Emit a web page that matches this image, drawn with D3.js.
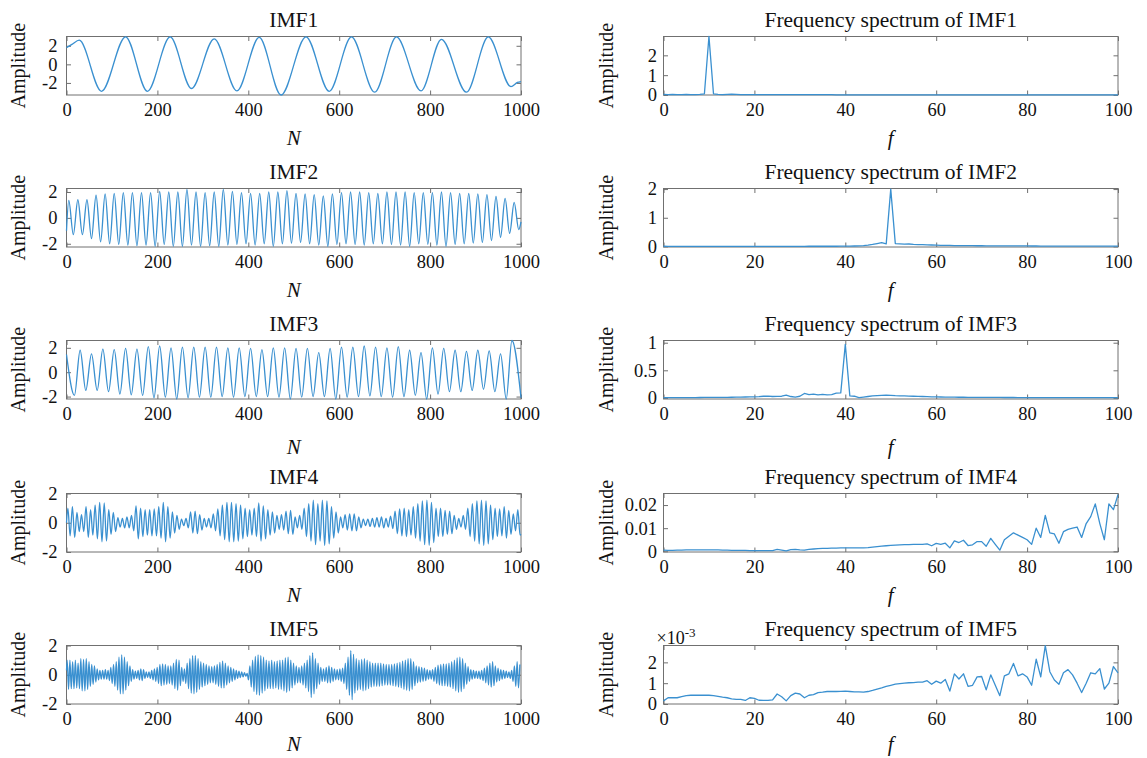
<!DOCTYPE html>
<html>
<head>
<meta charset="utf-8">
<script src="https://cdn.jsdelivr.net/npm/d3@7"></script>
<style>
  body { margin: 0; background: #fff; }
</style>
</head>
<body>
<svg id="fig" width="1147" height="758" font-family="Liberation Serif, Times New Roman, serif"></svg>
<script>
// ---------- tick labels and titles ----------
const sampleTicks = [0, 200, 400, 600, 800, 1000];
const freqTicks = [0, 20, 40, 60, 80, 100];
const imfTitles = ["IMF1", "IMF2", "IMF3", "IMF4", "IMF5"];
const specTitles = ["Frequency spectrum of IMF1", "Frequency spectrum of IMF2", "Frequency spectrum of IMF3",
                    "Frequency spectrum of IMF4", "Frequency spectrum of IMF5"];
const imfYTicks = [[-2, 0, 2], [-2, 0, 2], [-2, 0, 2], [-2, 0, 2], [-2, 0, 2]];
const specYTicks = [[0, 1, 2], [0, 1, 2], [0, 0.5, 1], [0, 0.01, 0.02], [0, 1, 2]];
const imfYDomains = [[-3.3, 3.0], [-2.25, 2.27], [-2.2, 2.6], [-2, 2], [-2, 2]];
const specYDomains = [[0, 2.95], [-0.02, 2.02], [-0.02, 1.04], [-0.0003, 0.025], [0, 2.81]];

// ---------- IMF1: turning points (sample index, amplitude) ----------
const imf1N = [0, 12, 28, 77, 130, 178, 228, 275, 325, 375, 424, 472, 527, 578, 627, 678, 726, 780, 825, 880, 928, 978, 992, 1000];
const imf1V = [1.8, 2.15, 2.6, -2.9, 2.97, -2.9, 2.95, -2.6, 2.75, -2.85, 2.9, -3.3, 2.97, -2.9, 2.95, -3.0, 2.95, -2.85, 2.7, -3.0, 2.95, -2.4, -1.95, -1.85];

// ---------- IMF2: crests at N = 5 + 20k, troughs at N = 15 + 20k ----------
const imf2Start = -1.0, imf2End = -0.3;
const imf2Peaks = [1.35, 1.4, 1.4, 1.75, 1.85, 1.9, 1.95, 1.95, 1.95, 1.95,
  2.05, 2.0, 2.0, 2.2, 2.0, 1.95, 2.0, 2.2, 2.05, 1.95,
  1.9, 1.9, 2.0, 2.0, 2.1, 1.9, 1.85, 1.8, 1.7, 1.85,
  1.95, 2.0, 2.0, 1.95, 1.9, 2.0, 2.0, 2.0, 1.95, 1.95,
  1.95, 2.0, 1.95, 1.9, 1.9, 1.85, 1.8, 1.65, 1.5, 1.2];
const imf2Troughs = [-1.3, -1.3, -1.6, -1.85, -2.0, -2.05, -2.1, -2.15, -2.1, -2.2,
  -2.05, -2.2, -2.2, -2.1, -2.2, -2.15, -2.2, -2.1, -2.05, -2.0,
  -2.1, -2.0, -2.2, -2.0, -1.95, -1.9, -2.0, -2.1, -2.2, -2.05,
  -2.0, -2.05, -2.1, -2.0, -2.0, -2.05, -2.1, -2.2, -2.0, -2.05,
  -2.1, -2.2, -2.05, -2.0, -1.95, -1.9, -1.75, -1.5, -1.2, -0.9];

// ---------- IMF3: troughs at N = 17.5 + 25k, crests at N = 30 + 25k ----------
const imf3Start = 1.45, imf3End = -2.1;
const imf3Troughs = [-1.9, -1.5, -1.5, -1.6, -1.8, -1.85, -1.9, -2.1, -2.05, -2.2,
  -2.1, -2.05, -2.05, -2.0, -2.05, -2.0, -2.0, -2.0, -2.05, -2.2,
  -2.05, -2.0, -2.0, -2.2, -2.05, -2.0, -1.95, -2.0, -2.05, -2.0,
  -1.9, -2.2, -1.8, -1.6, -1.6, -1.5, -1.4, -1.6, -2.2];
const imf3Peaks = [1.8, 1.5, 1.9, 1.85, 1.95, 1.9, 2.1, 2.15, 2.0, 2.05,
  2.05, 2.05, 2.05, 2.0, 2.0, 1.95, 1.85, 2.0, 2.0, 1.95,
  1.95, 1.6, 1.95, 2.05, 2.05, 2.15, 2.05, 2.0, 2.1, 1.8,
  1.6, 2.0, 1.95, 1.8, 1.7, 1.8, 1.75, 1.5, 2.6];

// ---------- IMF4: crests at N = 3 + 10k, troughs at N = 8 + 10k ----------
const imf4Start = 0.0, imf4End = -0.8;
const imf4Peaks = [1.0, 1.1, 0.7, 0.55, 1.1, 0.9, 1.2, 1.4, 1.35, 0.9,
  0.7, 0.35, 0.3, 0.4, 0.5, 1.15, 1.0, 0.9, 0.9, 0.95,
  1.1, 1.4, 1.1, 0.75, 0.5, 0.25, 0.3, 0.75, 0.8, 0.55,
  0.3, 0.3, 0.6, 0.95, 1.2, 1.4, 1.4, 1.3, 1.2, 1.0,
  0.9, 1.0, 1.35, 1.15, 0.9, 0.75, 0.5, 0.55, 0.8, 0.85,
  0.4, 0.5, 1.0, 1.3, 1.55, 1.3, 1.55, 1.5, 1.1, 0.75,
  0.4, 0.55, 0.6, 0.6, 0.4, 0.25, 0.25, 0.3, 0.35, 0.4,
  0.3, 0.45, 0.8, 0.95, 1.0, 0.9, 1.1, 1.3, 1.5, 1.55,
  1.4, 1.0, 1.0, 0.85, 0.8, 0.5, 0.3, 0.5, 1.0, 1.3,
  1.5, 1.55, 1.5, 1.2, 1.0, 0.95, 1.1, 0.85, 0.6, 0.9];
const imf4Troughs = [-0.9, -1.0, -0.6, -0.6, -1.0, -0.85, -1.1, -1.3, -1.25, -0.8,
  -0.6, -0.3, -0.35, -0.35, -0.55, -1.1, -0.95, -0.85, -0.9, -0.9,
  -1.05, -1.3, -1.05, -0.7, -0.45, -0.2, -0.35, -0.7, -0.75, -0.5,
  -0.3, -0.35, -0.55, -0.9, -1.15, -1.3, -1.3, -1.25, -1.1, -0.95,
  -0.85, -0.95, -1.25, -1.1, -0.85, -0.7, -0.45, -0.5, -0.75, -0.8,
  -0.35, -0.45, -0.95, -1.25, -1.5, -1.25, -1.55, -1.45, -1.05, -0.7,
  -0.35, -0.5, -0.55, -0.55, -0.35, -0.2, -0.25, -0.3, -0.3, -0.35,
  -0.3, -0.4, -0.75, -0.9, -0.95, -0.85, -1.05, -1.25, -1.5, -1.55,
  -1.35, -0.95, -0.95, -0.8, -0.75, -0.45, -0.3, -0.45, -0.95, -1.25,
  -1.45, -1.55, -1.45, -1.15, -0.95, -0.9, -1.05, -0.8, -0.55, -0.85];

// ---------- IMF5: crests at N = 1.5 + 6k, troughs at N = 4.5 + 6k ----------
const imf5Start = 0.3;
const imf5Peaks = [1.0, 1.0, 0.9, 1.0, 0.8, 1.1, 1.05, 1.1, 0.9, 0.7,
  0.6, 0.4, 0.3, 0.3, 0.35, 0.3, 0.5, 0.7, 0.9, 1.2,
  1.35, 1.2, 0.9, 0.6, 0.35, 0.25, 0.3, 0.4, 0.35, 0.2,
  0.2, 0.3, 0.4, 0.5, 0.7, 0.75, 0.7, 0.6, 0.6, 0.8,
  1.05, 1.0, 0.5, 0.4, 0.8, 1.1, 1.3, 1.3, 1.1, 0.9,
  0.8, 0.7, 0.6, 0.55, 0.6, 0.7, 0.85, 0.95, 0.8, 0.6,
  0.5, 0.4, 0.3, 0.25, 0.2, 0.15, 0.1, 0.6, 1.0, 1.25,
  1.35, 1.3, 1.2, 1.0, 0.95, 1.0, 0.9, 0.95, 1.0, 1.0,
  1.15, 1.2, 1.0, 0.8, 0.6, 0.5, 0.6, 0.8, 1.0, 1.3,
  1.5, 1.1, 0.8, 0.5, 0.4, 0.5, 0.6, 0.5, 0.4, 0.35,
  0.4, 0.45, 0.8, 1.2, 1.65, 1.4, 1.1, 1.0, 1.05, 1.1,
  1.0, 0.9, 0.8, 0.8, 0.8, 0.8, 0.75, 0.7, 0.7, 0.7,
  0.75, 0.8, 0.85, 0.95, 1.0, 1.1, 1.1, 0.9, 0.6, 0.55,
  0.5, 0.45, 0.35, 0.3, 0.35, 0.5, 0.65, 0.7, 0.75, 0.75,
  0.8, 0.9, 1.0, 1.15, 1.2, 1.1, 0.8, 0.55, 0.35, 0.3,
  0.25, 0.25, 0.3, 0.45, 0.6, 0.8, 0.9, 0.6, 0.45, 0.35,
  0.3, 0.25, 0.2, 0.3, 0.6, 0.9, 0.7];
const imf5Troughs = [-1.0, -0.95, -0.95, -0.9, -0.95, -1.1, -1.1, -1.0, -0.8, -0.65,
  -0.5, -0.35, -0.3, -0.3, -0.3, -0.4, -0.6, -0.8, -1.05, -1.3,
  -1.3, -1.05, -0.75, -0.45, -0.3, -0.25, -0.35, -0.4, -0.25, -0.2,
  -0.25, -0.35, -0.45, -0.6, -0.75, -0.7, -0.65, -0.6, -0.7, -0.95,
  -1.05, -0.75, -0.45, -0.6, -0.95, -1.25, -1.3, -1.2, -1.0, -0.85,
  -0.75, -0.65, -0.55, -0.55, -0.65, -0.8, -0.9, -0.9, -0.7, -0.55,
  -0.45, -0.35, -0.25, -0.2, -0.15, -0.1, -0.35, -0.85, -1.15, -1.35,
  -1.4, -1.25, -1.1, -0.95, -0.95, -0.95, -0.9, -1.0, -1.0, -1.1,
  -1.2, -1.1, -0.9, -0.7, -0.55, -0.55, -0.7, -0.9, -1.15, -1.55,
  -1.3, -0.95, -0.65, -0.45, -0.45, -0.55, -0.55, -0.45, -0.35, -0.35,
  -0.45, -0.6, -1.0, -1.4, -1.7, -1.25, -1.05, -1.0, -1.1, -1.05,
  -0.95, -0.85, -0.8, -0.8, -0.8, -0.75, -0.7, -0.7, -0.7, -0.75,
  -0.8, -0.85, -0.9, -1.0, -1.05, -1.1, -1.0, -0.75, -0.55, -0.5,
  -0.45, -0.4, -0.3, -0.3, -0.45, -0.6, -0.7, -0.75, -0.75, -0.8,
  -0.85, -0.95, -1.1, -1.2, -1.15, -0.95, -0.65, -0.45, -0.3, -0.25,
  -0.25, -0.3, -0.4, -0.55, -0.7, -0.85, -0.75, -0.5, -0.4, -0.3,
  -0.25, -0.2, -0.25, -0.45, -0.8, -0.9];

// ---------- amplitude spectra, f = 0 .. 100 ----------
const spec1 = [0.03, 0.02, 0.03, 0.02, 0.02, 0.03, 0.02, 0.02, 0.03, 0.06,
  2.95, 0.06, 0.03, 0.02, 0.03, 0.04, 0.03, 0.02, 0.02, 0.02,
  0.02, 0.015, 0.015, 0.02, 0.015, 0.015, 0.015, 0.02, 0.015, 0.015,
  0.015, 0.015, 0.02, 0.015, 0.015, 0.015, 0.015, 0.015, 0.01, 0.01,
  0.01, 0.01, 0.01, 0.01, 0.01, 0.01, 0.01, 0.01, 0.01, 0.01,
  0.01, 0.01, 0.01, 0.01, 0.01, 0.01, 0.01, 0.01, 0.01, 0.01,
  0.01, 0.01, 0.01, 0.01, 0.01, 0.01, 0.01, 0.01, 0.01, 0.01,
  0.01, 0.01, 0.01, 0.01, 0.01, 0.01, 0.01, 0.01, 0.01, 0.01,
  0.01, 0.01, 0.01, 0.01, 0.01, 0.01, 0.01, 0.01, 0.01, 0.01,
  0.01, 0.01, 0.01, 0.01, 0.01, 0.01, 0.01, 0.01, 0.01, 0.01, 0.01];
const spec2 = [0.006, 0.005, 0.005, 0.005, 0.005, 0.005, 0.005, 0.005, 0.005, 0.005,
  0.005, 0.005, 0.005, 0.005, 0.005, 0.005, 0.005, 0.005, 0.005, 0.005,
  0.005, 0.005, 0.005, 0.005, 0.005, 0.005, 0.005, 0.005, 0.005, 0.005,
  0.005, 0.005, 0.006, 0.006, 0.006, 0.006, 0.007, 0.007, 0.007, 0.008,
  0.008, 0.01, 0.015, 0.02, 0.03, 0.045, 0.07, 0.1, 0.13, 0.09,
  2.0, 0.1, 0.09, 0.08, 0.085, 0.07, 0.06, 0.06, 0.055, 0.05,
  0.045, 0.04, 0.04, 0.035, 0.03, 0.03, 0.028, 0.026, 0.025, 0.024,
  0.023, 0.022, 0.022, 0.021, 0.02, 0.02, 0.019, 0.018, 0.018, 0.017,
  0.016, 0.015, 0.015, 0.014, 0.014, 0.013, 0.013, 0.012, 0.012, 0.011,
  0.011, 0.01, 0.01, 0.01, 0.009, 0.009, 0.009, 0.008, 0.008, 0.008, 0.008];
const spec3 = [0.005, 0.005, 0.004, 0.004, 0.005, 0.005, 0.006, 0.006, 0.007, 0.008,
  0.008, 0.009, 0.01, 0.01, 0.011, 0.012, 0.013, 0.014, 0.016, 0.018,
  0.02, 0.022, 0.03, 0.032, 0.025, 0.028, 0.03, 0.05, 0.025, 0.015,
  0.03, 0.08, 0.06, 0.07, 0.055, 0.065, 0.055, 0.06, 0.085, 0.09,
  0.97, 0.035, 0.03, 0.005, 0.015, 0.025, 0.035, 0.04, 0.045, 0.048,
  0.045, 0.04, 0.038, 0.035, 0.032, 0.03, 0.028, 0.025, 0.022, 0.02,
  0.018, 0.016, 0.015, 0.014, 0.013, 0.012, 0.012, 0.011, 0.01, 0.01,
  0.009, 0.009, 0.008, 0.008, 0.008, 0.007, 0.007, 0.007, 0.006, 0.006,
  0.006, 0.006, 0.005, 0.005, 0.005, 0.005, 0.005, 0.005, 0.005, 0.005,
  0.005, 0.005, 0.005, 0.005, 0.005, 0.005, 0.005, 0.005, 0.005, 0.005, 0.005];
const spec4 = [0.0005, 0.0004, 0.0004, 0.0005, 0.0005, 0.0006, 0.0006, 0.0006, 0.0006, 0.0006,
  0.0006, 0.0006, 0.0006, 0.0005, 0.0005, 0.0004, 0.0004, 0.0004, 0.0004, 0.0003,
  0.0003, 0.0003, 0.0003, 0.0003, 0.0003, 0.0008, 0.0005, 0.0002, 0.0007, 0.0008,
  0.0006, 0.0005, 0.0008, 0.001, 0.0012, 0.0013, 0.0013, 0.0014, 0.0014, 0.0015,
  0.0015, 0.0015, 0.0015, 0.0015, 0.0015, 0.0016, 0.0018, 0.002, 0.0022, 0.0024,
  0.0026, 0.0027, 0.0028, 0.0029, 0.0029, 0.003, 0.003, 0.003, 0.0032, 0.0024,
  0.0034, 0.003, 0.0035, 0.0015, 0.0045, 0.0038, 0.0048, 0.0025, 0.0028, 0.0042,
  0.0042, 0.0022, 0.0056, 0.003, 0.0005, 0.005, 0.0065, 0.008, 0.007, 0.006,
  0.005, 0.003, 0.01, 0.006, 0.0155, 0.008, 0.0075, 0.0035, 0.0085, 0.0095,
  0.01, 0.0105, 0.006, 0.012, 0.015, 0.0205, 0.012, 0.005, 0.0205, 0.018, 0.0245];
// spectrum of IMF5, in units of 10^-3
const spec5 = [0.15, 0.3, 0.3, 0.3, 0.35, 0.4, 0.42, 0.42, 0.42, 0.42,
  0.42, 0.4, 0.37, 0.33, 0.3, 0.25, 0.22, 0.22, 0.17, 0.3,
  0.27, 0.18, 0.17, 0.17, 0.2, 0.48, 0.35, 0.15, 0.4, 0.52,
  0.48, 0.3, 0.42, 0.45, 0.55, 0.57, 0.6, 0.6, 0.6, 0.61,
  0.62, 0.6, 0.58, 0.58, 0.57, 0.6, 0.65, 0.72, 0.78, 0.85,
  0.9, 0.95, 0.98, 1.0, 1.02, 1.03, 1.05, 1.05, 1.12, 0.95,
  1.1, 1.0, 1.18, 0.62, 1.45, 1.2, 1.45, 0.85, 0.9, 1.3,
  1.32, 0.68, 1.4, 0.9, 0.4, 1.35, 1.45, 1.95, 1.35, 1.45,
  1.3, 0.9, 2.15, 1.3, 2.8, 1.55, 1.15, 0.95, 1.5, 1.65,
  1.4, 1.0, 0.55, 1.0, 1.5, 1.45, 1.7, 0.72, 1.0, 1.8, 1.5];

// ---------- assemble point lists ----------
function zipSeries(ns, vs) { return ns.map((n, i) => [n, vs[i]]); }
// interleave two extremum lists; first list sits at first0 + k*period, second at first1 + k*period
function extrema(start, firstList, first0, secondList, first1, period, end) {
  const pts = [[0, start]];
  const n = Math.max(firstList.length, secondList.length);
  for (let k = 0; k < n; k++) {
    if (k < firstList.length) pts.push([first0 + k * period, firstList[k]]);
    if (k < secondList.length) pts.push([first1 + k * period, secondList[k]]);
  }
  if (end !== undefined) pts.push([1000, end]);
  return pts;
}
const freqs = d3.range(0, 101);
const imfSeries = [
  zipSeries(imf1N, imf1V),
  extrema(imf2Start, imf2Peaks, 5, imf2Troughs, 15, 20, imf2End),
  extrema(imf3Start, imf3Troughs, 17.5, imf3Peaks, 30, 25, imf3End),
  extrema(imf4Start, imf4Peaks, 3, imf4Troughs, 8, 10, imf4End),
  extrema(imf5Start, imf5Peaks, 1.5, imf5Troughs, 4.5, 6)
];
const specSeries = [spec1, spec2, spec3, spec4, spec5].map(s => zipSeries(freqs, s));

// ---------- layout ----------
const FONT = "Liberation Serif, Times New Roman, serif";
const svg = d3.select("#fig");
const LINE = "#3a90d0";
const AXIS = "#707070";
const TICK = 4.5;
const rowTop = [36.5, 188.5, 340.5, 493.5, 645.5];
const boxH = 58.5;
const leftCol = { x0: 66.5, x1: 521, tickPad: 9, ylabX: 24.5 };
const rightCol = { x0: 663.5, x1: 1118, tickPad: 6.5, ylabX: 612.5 };
const labelGap = [50, 50, 55, 50, 47];
const fmt = d => String(d);

function styleAxis(sel) {
  sel.select(".domain").remove();
  sel.attr("font-family", FONT).attr("font-size", 18.5);
  sel.selectAll(".tick line").attr("stroke", AXIS).attr("stroke-width", 1);
  sel.selectAll(".tick text").attr("fill", "#111");
}

function drawPanel(o) {
  const top = o.top, bottom = o.top + boxH;
  const x = d3.scaleLinear().domain(o.xDomain).range([o.col.x0, o.col.x1]);
  const y = d3.scaleLinear().domain(o.yDomain).range([bottom, top]);
  const g = svg.append("g").attr("font-family", FONT);

  // frame
  g.append("rect").attr("x", o.col.x0).attr("y", top)
    .attr("width", o.col.x1 - o.col.x0).attr("height", boxH)
    .attr("fill", "none").attr("stroke", AXIS).attr("stroke-width", 1);

  // ticks on all four sides, pointing inward
  styleAxis(g.append("g").attr("transform", `translate(0,${bottom})`)
    .call(d3.axisBottom(x).tickValues(o.xTicks).tickSize(-TICK).tickSizeOuter(0).tickPadding(8).tickFormat(fmt)));
  styleAxis(g.append("g").attr("transform", `translate(0,${top})`)
    .call(d3.axisTop(x).tickValues(o.xTicks).tickSize(-TICK).tickSizeOuter(0).tickFormat("")));
  styleAxis(g.append("g").attr("transform", `translate(${o.col.x0},0)`)
    .call(d3.axisLeft(y).tickValues(o.yTicks).tickSize(-TICK).tickSizeOuter(0).tickPadding(o.col.tickPad).tickFormat(fmt)));
  styleAxis(g.append("g").attr("transform", `translate(${o.col.x1},0)`)
    .call(d3.axisRight(y).tickValues(o.yTicks).tickSize(-TICK).tickSizeOuter(0).tickFormat("")));

  // data
  g.append("path").datum(o.points)
    .attr("fill", "none").attr("stroke", LINE).attr("stroke-width", 1.3)
    .attr("stroke-linejoin", "round")
    .attr("d", d3.line().x(d => x(d[0])).y(d => y(d[1])).curve(o.curve));

  // title
  const cx = (o.col.x0 + o.col.x1) / 2;
  g.append("text").attr("x", cx).attr("y", top - 9.5).attr("fill", "#111")
    .attr("text-anchor", "middle").attr("font-size", 21.5).text(o.title);
  // x label
  g.append("text").attr("x", cx).attr("y", bottom + o.labelGap).attr("fill", "#111")
    .attr("text-anchor", "middle").attr("font-size", 21).attr("font-style", "italic").text(o.xLabel);
  // y label
  g.append("text").attr("transform", `translate(${o.col.ylabX},${(top + bottom) / 2}) rotate(-90)`)
    .attr("fill", "#111").attr("text-anchor", "middle").attr("font-size", 20).text("Amplitude");
  return g;
}

for (let r = 0; r < 5; r++) {
  drawPanel({
    col: leftCol, top: rowTop[r], xDomain: [0, 1000], xTicks: sampleTicks,
    yDomain: imfYDomains[r], yTicks: imfYTicks[r], points: imfSeries[r],
    curve: d3.curveMonotoneX, title: imfTitles[r], xLabel: "N", labelGap: labelGap[r]
  });
  const g = drawPanel({
    col: rightCol, top: rowTop[r], xDomain: [0, 100], xTicks: freqTicks,
    yDomain: specYDomains[r], yTicks: specYTicks[r], points: specSeries[r],
    curve: d3.curveLinear, title: specTitles[r], xLabel: "f", labelGap: labelGap[r]
  });
  if (r === 4) {
    // exponent of the scaled y axis
    const t = g.append("text").attr("x", rightCol.x0 - 7).attr("y", rowTop[r] - 2)
      .attr("fill", "#111").attr("font-size", 18);
    t.append("tspan").text("\u00d710");
    t.append("tspan").attr("font-size", 13).attr("dy", -7).text("-3");
  }
}
</script>
</body>
</html>
